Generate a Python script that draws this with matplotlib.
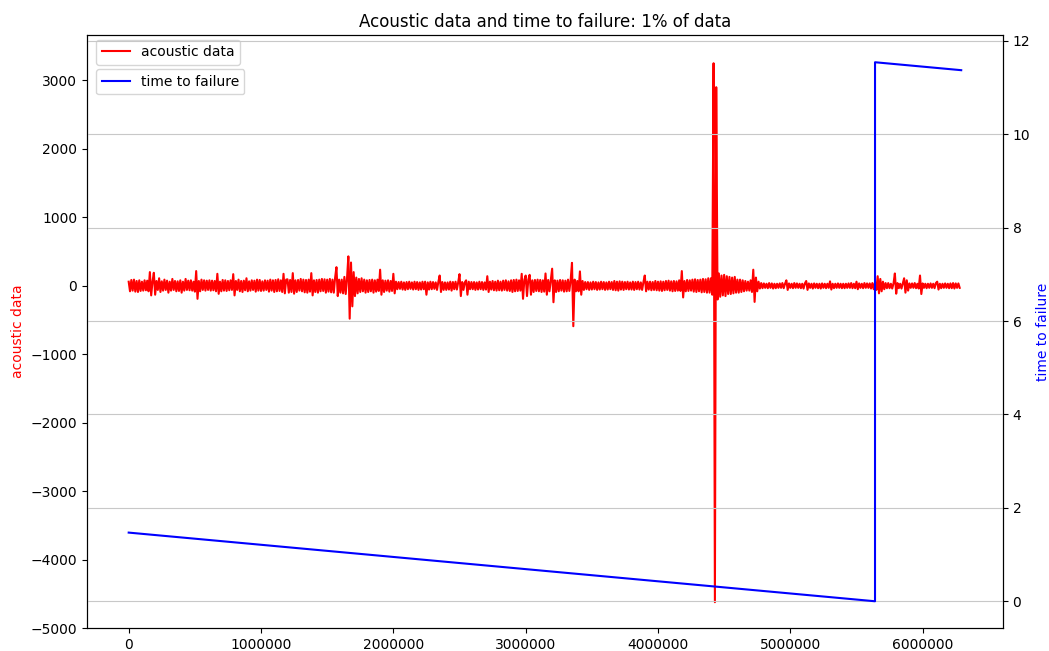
import matplotlib
matplotlib.use("Agg")
import matplotlib.pyplot as plt

# acoustic data, one value every 10000 samples
# (each row covers 200000 samples)
acoustic = [
    60, -80, 85, -70, 90, -85, 70, -90, 80, -75, 60, -70, 80, -65, 75, -80, 200, -140, 60, 190,
    -130, 70, -60, 110, -90, 65, -70, 90, -60, 75, -100, 60, -70, 100, -60, 70, -80, 65, -75, 80,
    -100, 60, -70, 100, -60, 75, -65, 80, -70, 60, -85, 215, -190, 70, -80, 90, -60, 80, -70, 75,
    -60, 80, -70, 75, -65, 70, -80, 175, -117, 60, -80, 85, -70, 80, -75, 70, -65, 80, -60, 170,
    -140, 70, -60, 90, -80, 70, -90, 75, -65, 110, -80, 65, -70, 80, -60, 75, -85, 90, -70, 85,
    -75, 65, -70, 80, -60, 75, -85, 90, -70, 80, -90, 85, -80, 95, -75, 80, -90, 175, -110, 90,
    95, -100, 85, -90, 185, -115, 80, -90, 85, -70, 100, -80, 90, -95, 85, -100, 90, -85, 185, -140,
    80, -90, 85, -100, 90, -80, 100, -75, 95, -100, 90, -85, 100, -95, 90, -100, 120, 272, -150, 90,
    -100, 90, -110, 130, -120, 110, 430, -480, 340, -300, 200, -150, 120, -110, 100, -90, 110, -80, 90, -100,
    80, -90, 85, -80, 90, -100, 80, -85, 90, -75, 235, -130, 80, -90, 75, -70, 80, -85, 70, -75,
    175, -110, 60, -50, 55, -45, 60, -55, 50, -60, 55, -50, 60, -45, 50, -55, 60, -50, 55, -60,
    50, -55, 60, -50, 60, -130, 50, -55, 60, -50, 55, -45, 50, -60, 55, 150, -90, 55, -60, 50,
    -60, 50, -55, 60, -70, 55, -50, 60, -55, 50, 170, -150, 55, -60, 50, 80, -130, 60, -50, 55,
    -50, 55, -60, 50, -55, 60, -50, 55, -60, 50, -55, 140, -90, 60, -55, 70, -65, 60, -70, 75,
    -65, 60, -70, 75, -60, 80, -70, 65, -75, 80, -90, 85, -80, 90, -75, 80, -70, 175, -190, 85,
    150, -150, 90, 160, -130, 80, -90, 85, -75, 90, -80, 85, -90, 80, -85, 180, -130, 85, -80, 90,
    250, -240, 80, -90, 75, -80, 85, -70, 80, -85, 75, -80, 90, -75, 85, 335, -590, 90, -80, 70,
    -80, 210, -130, 70, -60, 55, -50, 55, -60, 50, -55, 60, -50, 55, -60, 50, -55, 60, -50, 55,
    -60, 50, -55, 60, -50, 55, -60, 70, -65, 60, -70, 65, -55, 60, -60, 55, -50, 60, -55, 50,
    -55, 60, -60, 55, -50, 60, -55, 50, -60, 55, 150, -80, 60, -55, 60, -65, 55, -60, 70, -65,
    60, -70, 65, -75, 60, -65, 70, -60, 75, -70, 65, -80, 70, -75, 65, -70, 80, -75, 215, -170,
    70, -80, 85, -75, 80, -70, 90, -85, 95, -90, 85, -80, 90, -95, 100, -90, 95, -100, 110, -100,
    110, -130, 3250, -4620, 2900, -200, 180, -160, 150, -140, 160, -150, 140, -120, 130, -120, 120, -110, 130, -100,
    90, -100, 90, -90, 80, -80, 70, -70, 60, -70, 80, -90, 235, -235, 120, -80, 60, -40, 40, -35,
    35, -30, 30, -35, 40, -30, 35, -40, 30, -35, 30, -30, 35, -30, 40, -35, 30, 80, -60, 35,
    -30, 30, -35, 40, -30, 35, -30, 30, -35, 30, -40, 35, 70, -60, 35, -30, 30, -40, 35, -30,
    30, -35, 30, -40, 35, -30, 30, -35, 30, -30, 65, -55, 30, -35, 30, -30, 35, -30, 30, -35,
    30, -35, 30, -30, 35, -30, 40, -35, 30, -35, 60, -50, 35, -30, 30, -35, 40, -30, 35, -30,
    35, -40, 40, -50, 50, -60, 140, -110, 100, -80, 60, -50, 40, -35, 40, -35, 30, -40, 35, 180,
    -115, 40, -35, 30, -40, 35, 110, -100, 80, -70, 35, -30, 35, -30, 40, -35, 30, -40, 150, -120,
    35, -30, 30, -35, 30, -30, 35, -30, 30, -35, 40, 60, -55, 30, -35, 30, -30, 35, -30, 30,
    -35, 35, -35, 40, -40, 35, -30, 35, -30,
]
acoustic_step = 10000

# time to failure, sample index and seconds
ttf_idx = [0, 5640000, 5640100, 6291455]
ttf_val = [1.47, 0.0, 11.54, 11.37]

ad_idx = range(0, len(acoustic) * acoustic_step, acoustic_step)

fig, ax1 = plt.subplots(figsize=(10.49, 6.51), dpi=100)
fig.subplots_adjust(left=0.083, right=0.956, top=0.946, bottom=0.035)
plt.title("Acoustic data and time to failure: 1% of data")
ax1.plot(ad_idx, acoustic, color='r', lw=1.5)
ax1.set_ylabel('acoustic data', color='r')
ax1.set_ylim(-5000, 3660)
ax1.ticklabel_format(style='plain', axis='x')
plt.legend(['acoustic data'], loc=(0.01, 0.95))

ax2 = ax1.twinx()
ax2.plot(ttf_idx, ttf_val, color='b', lw=1.5)
ax2.set_ylabel('time to failure', color='b')
ax2.set_ylim(-0.577, 12.12)
plt.legend(['time to failure'], loc=(0.01, 0.9))
ax2.grid(True, axis='y', color='#c8c8c8')

fig.savefig("out.png", dpi=100)
